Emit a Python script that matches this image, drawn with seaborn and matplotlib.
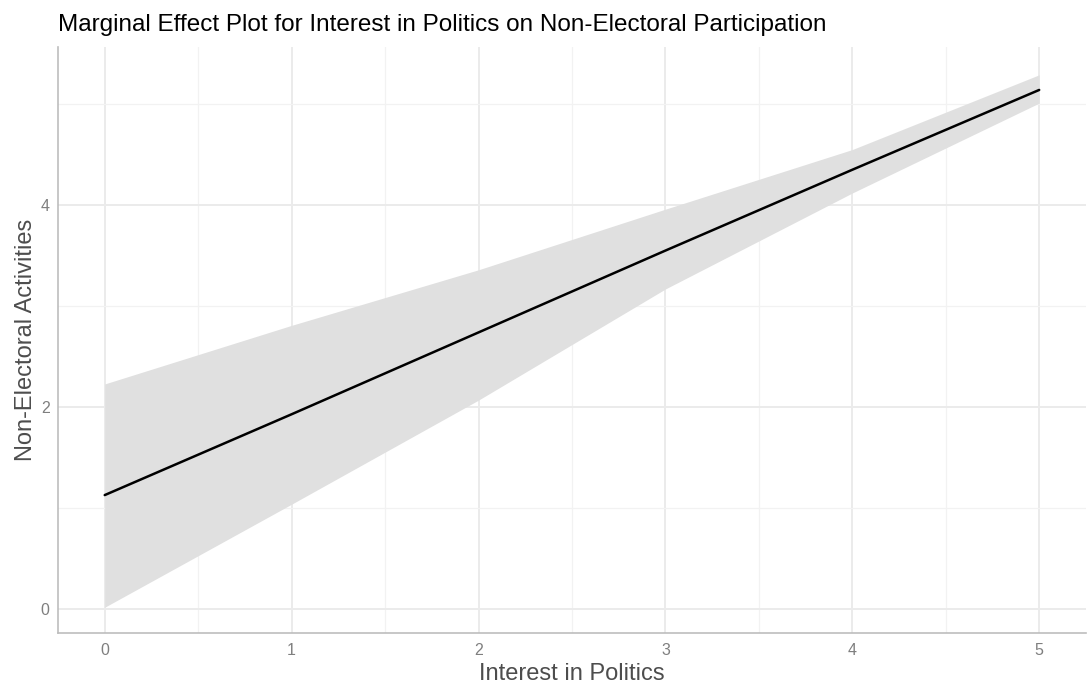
import matplotlib
matplotlib.use("Agg")
import matplotlib.pyplot as plt
import seaborn as sns
import pandas as pd
from matplotlib.ticker import MultipleLocator

interest = [0, 1, 2, 3, 4, 5]
predicted = [1.13, 1.93, 2.74, 3.55, 4.35, 5.14]
ci_lower = [0.02, 1.04, 2.07, 3.17, 4.12, 5.01]
ci_upper = [2.23, 2.81, 3.36, 3.96, 4.55, 5.29]

x_ticks = [0, 1, 2, 3, 4, 5]
y_ticks = [0, 2, 4]

df = pd.DataFrame({"interest": interest, "predicted": predicted,
                   "lower": ci_lower, "upper": ci_upper})

sns.set_theme(style="whitegrid")
plt.rcParams['font.family'] = ['Liberation Sans', 'DejaVu Sans']

fig = plt.figure(figsize=(10.87, 6.84), dpi=100)
ax = fig.add_axes([58/1087, 1-633/684, 1-58/1087 - 0.001, (633-47)/684])

ax.fill_between(df["interest"], df["lower"], df["upper"], color="#e0e0e0", linewidth=0, zorder=2)
sns.lineplot(data=df, x="interest", y="predicted", color="black", linewidth=1.8, ax=ax, zorder=3)

ax.set_xlim(-0.25, 5.25)
ax.set_ylim(-0.235, 5.565)
ax.set_xticks(x_ticks)
ax.set_yticks(y_ticks)
ax.set_xticklabels([str(t) for t in x_ticks])
ax.set_yticklabels([str(t) for t in y_ticks])
ax.xaxis.set_minor_locator(MultipleLocator(0.5))
ax.yaxis.set_minor_locator(MultipleLocator(1))
ax.grid(which="major", color="#ebebeb", linewidth=1.4, zorder=0)
ax.grid(which="minor", color="#f2f2f2", linewidth=0.9, zorder=0)
ax.set_axisbelow(True)

for side in ["top", "right"]:
    ax.spines[side].set_visible(False)
for side in ["left", "bottom"]:
    ax.spines[side].set_visible(True)
    ax.spines[side].set_color("#bdbdbd")
    ax.spines[side].set_linewidth(1.2)

ax.tick_params(axis="both", which="both", length=0, labelsize=11.5, labelcolor="#7f7f7f")
ax.tick_params(axis="x", pad=7)
ax.tick_params(axis="y", pad=6)

ax.set_xlabel("Interest in Politics", fontsize=17, color="#4d4d4d", labelpad=4)
ax.set_ylabel("Non-Electoral Activities", fontsize=17, color="#4d4d4d", labelpad=3)

fig.text(58/1087, 1-25/684, "Marginal Effect Plot for Interest in Politics on Non-Electoral Participation",
         fontsize=17.5, color="black", ha="left", va="center")

fig.savefig("out.png", dpi=100, facecolor="white")
